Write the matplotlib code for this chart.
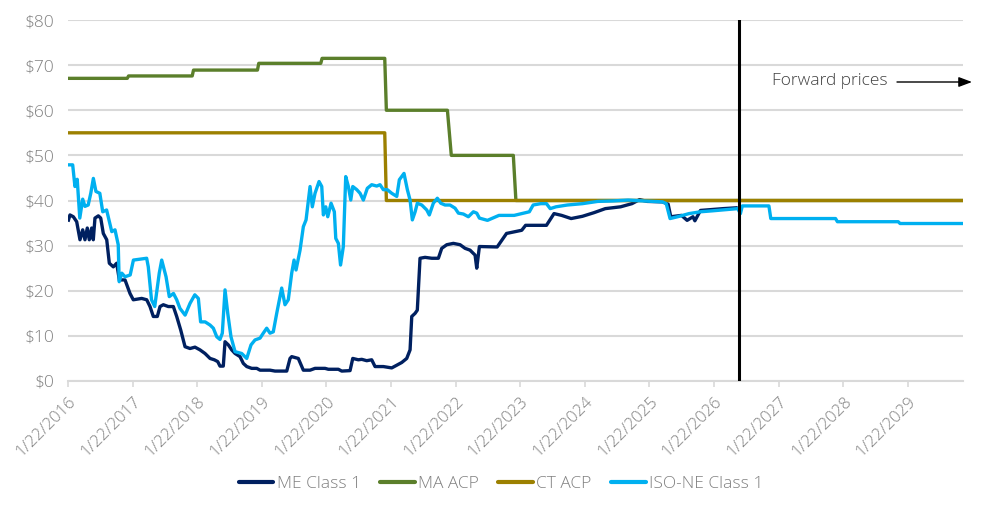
import matplotlib
matplotlib.use("Agg")
import matplotlib.pyplot as plt
from datetime import date

# ---------------- data (x = decimal year, y = $/MWh) ----------------
me_class1 = [
    (2016.0575, 35.3), (2016.088, 36.8), (2016.14, 36.4), (2016.192, 35.3), (2016.243, 31.3),
    (2016.285, 33.5), (2016.32, 31.3), (2016.356, 33.9), (2016.387, 31.3), (2016.424, 33.9),
    (2016.449, 31.3), (2016.475, 36.1), (2016.527, 36.6), (2016.564, 36.1), (2016.604, 32.7),
    (2016.657, 31.3), (2016.697, 26.1), (2016.759, 25.3), (2016.811, 26.1), (2016.852, 22.4),
    (2016.94, 22.4), (2017.017, 19.4), (2017.068, 18.0), (2017.198, 18.3), (2017.276, 18.0),
    (2017.327, 16.5), (2017.378, 14.3), (2017.44, 14.3), (2017.482, 16.5), (2017.533, 16.9),
    (2017.61, 16.5), (2017.688, 16.5), (2017.74, 14.3), (2017.802, 11.3), (2017.869, 7.6),
    (2017.946, 7.2), (2018.023, 7.5), (2018.1, 6.9), (2018.178, 6.1), (2018.256, 5.0),
    (2018.322, 4.7), (2018.375, 4.3), (2018.41, 3.3), (2018.461, 3.3), (2018.488, 8.7),
    (2018.539, 8.0), (2018.591, 6.9), (2018.643, 6.1), (2018.72, 5.4), (2018.771, 3.9),
    (2018.824, 3.2), (2018.901, 2.8), (2018.979, 2.8), (2019.03, 2.4), (2019.184, 2.4),
    (2019.262, 2.2), (2019.443, 2.2), (2019.494, 5.0), (2019.52, 5.4), (2019.622, 5.0),
    (2019.7, 2.4), (2019.804, 2.4), (2019.881, 2.8), (2020.036, 2.8), (2020.087, 2.6),
    (2020.242, 2.6), (2020.294, 2.2), (2020.423, 2.3), (2020.465, 5.0), (2020.551, 4.7),
    (2020.604, 4.8), (2020.681, 4.5), (2020.758, 4.7), (2020.81, 3.2), (2020.938, 3.2),
    (2021.068, 2.9), (2021.146, 3.5), (2021.223, 4.1), (2021.3, 5.0), (2021.352, 6.9),
    (2021.378, 14.3), (2021.43, 15.0), (2021.464, 15.7), (2021.506, 27.2), (2021.584, 27.4),
    (2021.688, 27.2), (2021.79, 27.2), (2021.842, 29.4), (2021.92, 30.2), (2022.022, 30.5),
    (2022.126, 30.2), (2022.203, 29.4), (2022.28, 29.0), (2022.358, 27.9), (2022.384, 25.0),
    (2022.425, 29.8), (2022.7, 29.7), (2022.845, 32.7), (2023.08, 33.4), (2023.14, 34.5),
    (2023.463, 34.5), (2023.58, 37.1), (2023.698, 36.7), (2023.845, 36.0), (2024.02, 36.5),
    (2024.198, 37.3), (2024.374, 38.2), (2024.61, 38.6), (2024.786, 39.3), (2024.904, 40.2),
    (2025.022, 39.8), (2025.258, 39.7), (2025.346, 39.2), (2025.387, 36.4), (2025.553, 36.7),
    (2025.64, 35.6), (2025.73, 36.4), (2025.76, 35.5), (2025.847, 37.8), (2026.023, 38.0),
    (2026.2, 38.2), (2026.423, 38.4),
]

ma_acp = [
    (2016.0575, 67.07), (2016.975, 67.07), (2016.995, 67.6), (2017.98, 67.6), (2018.0, 68.9),
    (2018.99, 68.9), (2019.01, 70.4), (2019.97, 70.4), (2019.99, 71.5), (2020.96, 71.5),
    (2020.985, 60.0), (2021.93, 60.0), (2021.99, 50.0), (2022.95, 50.0), (2022.99, 40.0),
    (2029.91, 40.0),
]

ct_acp = [
    (2016.0575, 55.0), (2020.96, 55.0), (2020.985, 40.0), (2029.91, 40.0),
]

iso_ne_class1 = [
    (2016.0575, 47.9), (2016.13, 47.9), (2016.165, 43.1), (2016.20, 44.7), (2016.24, 36.1),
    (2016.285, 40.3), (2016.32, 38.7), (2016.37, 39.0), (2016.41, 41.6), (2016.45, 44.9),
    (2016.49, 42.0), (2016.55, 41.6), (2016.595, 37.5), (2016.655, 37.9), (2016.735, 33.1),
    (2016.785, 33.5), (2016.835, 30.2), (2016.85, 22.0), (2016.89, 23.9), (2016.94, 23.1),
    (2017.02, 23.5), (2017.07, 26.8), (2017.275, 27.2), (2017.30, 25.3), (2017.35, 18.0),
    (2017.40, 16.5), (2017.47, 23.9), (2017.508, 26.8), (2017.575, 23.1), (2017.625, 18.7),
    (2017.69, 19.4), (2017.74, 18.0), (2017.79, 16.1), (2017.87, 14.6), (2017.946, 17.2),
    (2018.02, 19.1), (2018.075, 18.3), (2018.11, 13.1), (2018.18, 13.1), (2018.256, 12.4),
    (2018.307, 11.7), (2018.36, 9.8), (2018.41, 9.2), (2018.446, 10.6), (2018.488, 20.2),
    (2018.53, 15.0), (2018.58, 9.8), (2018.643, 6.5), (2018.746, 6.1), (2018.824, 5.0),
    (2018.89, 8.0), (2018.952, 9.1), (2019.03, 9.5), (2019.08, 10.6), (2019.133, 11.7),
    (2019.184, 10.6), (2019.235, 10.9), (2019.288, 15.0), (2019.365, 20.6), (2019.416, 16.9),
    (2019.467, 18.0), (2019.52, 23.9), (2019.556, 26.8), (2019.587, 24.6), (2019.649, 29.0),
    (2019.70, 34.2), (2019.742, 35.7), (2019.804, 43.1), (2019.839, 38.6), (2019.881, 41.6),
    (2019.943, 44.2), (2019.985, 43.1), (2020.01, 36.8), (2020.047, 38.6), (2020.078, 36.4),
    (2020.129, 39.4), (2020.18, 37.5), (2020.202, 31.6), (2020.242, 30.5), (2020.276, 25.7),
    (2020.319, 29.8), (2020.356, 45.3), (2020.397, 43.1), (2020.434, 40.1), (2020.465, 43.1),
    (2020.527, 42.4), (2020.578, 41.6), (2020.629, 40.1), (2020.69, 42.7), (2020.758, 43.5),
    (2020.836, 43.2), (2020.887, 43.5), (2020.938, 42.4), (2021.0, 42.4), (2021.068, 41.6),
    (2021.146, 40.9), (2021.186, 44.6), (2021.258, 46.0), (2021.31, 42.4), (2021.352, 40.1),
    (2021.387, 35.7), (2021.43, 37.5), (2021.464, 39.4), (2021.533, 39.0), (2021.61, 37.9),
    (2021.65, 36.8), (2021.712, 39.4), (2021.774, 40.5), (2021.827, 39.4), (2021.893, 39.0),
    (2021.97, 39.0), (2022.048, 38.3), (2022.10, 37.2), (2022.177, 37.0), (2022.254, 36.4),
    (2022.332, 37.5), (2022.384, 37.2), (2022.425, 36.1), (2022.55, 35.6), (2022.728, 36.7),
    (2022.963, 36.7), (2023.08, 37.1), (2023.198, 37.5), (2023.257, 39.0), (2023.374, 39.3),
    (2023.463, 39.3), (2023.521, 38.2), (2023.61, 38.6), (2023.786, 39.0), (2024.021, 39.3),
    (2024.257, 39.8), (2024.492, 39.9), (2024.727, 40.1), (2024.963, 39.9), (2025.258, 39.7),
    (2025.317, 39.3), (2025.376, 36.0), (2025.494, 36.4), (2025.67, 37.1), (2025.847, 37.5),
    (2026.023, 37.7), (2026.258, 38.0), (2026.423, 38.2), (2026.465, 37.1), (2026.494, 38.8),
    (2026.906, 38.8), (2026.935, 36.0), (2027.937, 36.0), (2027.966, 35.3), (2028.907, 35.3),
    (2028.936, 34.9), (2029.91, 34.9),
]

series_names = ["ME Class 1", "MA ACP", "CT ACP", "ISO-NE Class 1"]
series_colors = ["#002060", "#5B7F2B", "#9C8000", "#00B0F0"]
tick_labels = [f"1/22/{y}" for y in range(2016, 2030)]
y_ticks = [0, 10, 20, 30, 40, 50, 60, 70, 80]
forward_start = 2026.445   # vertical divider (history vs forward)
x_end = 2029.91


def to_decimal_year(label):
    m, d, y = (int(p) for p in label.split("/"))
    start = date(y, 1, 1)
    return y + (date(y, m, d) - start).days / 365.0


# ---------------- plotting ----------------
FONT = ["Open Sans", "DejaVu Sans"]
plt.rcParams["font.family"] = FONT

fig = plt.figure(figsize=(9.98, 5.09), dpi=100)
ax = fig.add_axes([68 / 998, 1 - 381 / 509, 895 / 998, 361 / 509])

all_series = [me_class1, ma_acp, ct_acp, iso_ne_class1]
for pts, name, col in zip(all_series, series_names, series_colors):
    xs = [p[0] for p in pts]
    ys = [p[1] for p in pts]
    ax.plot(xs, ys, color=col, lw=2.4, label=name, solid_joinstyle="round",
            solid_capstyle="butt", zorder=3)

ax.axvline(forward_start, ymin=0, ymax=1, color="black", lw=2.2, zorder=4)

x0 = to_decimal_year(tick_labels[0])
ax.set_xlim(x0, x_end)
ax.set_ylim(0, 80)

ax.set_yticks(y_ticks)
ax.set_yticklabels([f"${v}" for v in y_ticks])
ax.set_xticks([to_decimal_year(t) for t in tick_labels])
ax.set_xticklabels(tick_labels, rotation=45, ha="right", rotation_mode="anchor")

ax.grid(axis="y", color="#D9D9D9", lw=1.5, zorder=0)
ax.set_axisbelow(True)
for s in ["top", "right", "left"]:
    ax.spines[s].set_visible(False)
ax.spines["bottom"].set_color("#D9D9D9")
ax.spines["bottom"].set_linewidth(1.5)

ax.tick_params(axis="y", length=0, pad=10, labelsize=12.5, labelcolor="#808080")
ax.tick_params(axis="x", length=4, width=1.2, color="#D9D9D9", pad=5,
               labelsize=12, labelcolor="#808080")
for lab in ax.get_xticklabels() + ax.get_yticklabels():
    lab.set_fontweight("light")

# Forward prices annotation
ax.text((772 - 68) / 895, (381 - 81) / 361, "Forward prices", transform=ax.transAxes,
        fontsize=12.5, color="#404040", ha="left", va="center", fontweight="light")
ax.annotate("", xy=((972 - 68) / 895, (381 - 82) / 361), xycoords="axes fraction",
            xytext=((897 - 68) / 895, (381 - 82) / 361), textcoords="axes fraction",
            arrowprops=dict(arrowstyle="-|>,head_length=0.8,head_width=0.3",
                            color="black", lw=1.0, shrinkA=0, shrinkB=0),
            annotation_clip=False)

leg = fig.legend(loc="center", bbox_to_anchor=(0.502, 1 - 484 / 509), ncol=4,
                 frameon=False, fontsize=12.5, handlelength=2.0, handletextpad=0.2,
                 columnspacing=1.1)
for t in leg.get_texts():
    t.set_color("#808080")
    t.set_fontweight("light")
for h in leg.get_lines():
    h.set_linewidth(3.0)
    h.set_solid_capstyle("round")

fig.savefig("out.png", dpi=100)
